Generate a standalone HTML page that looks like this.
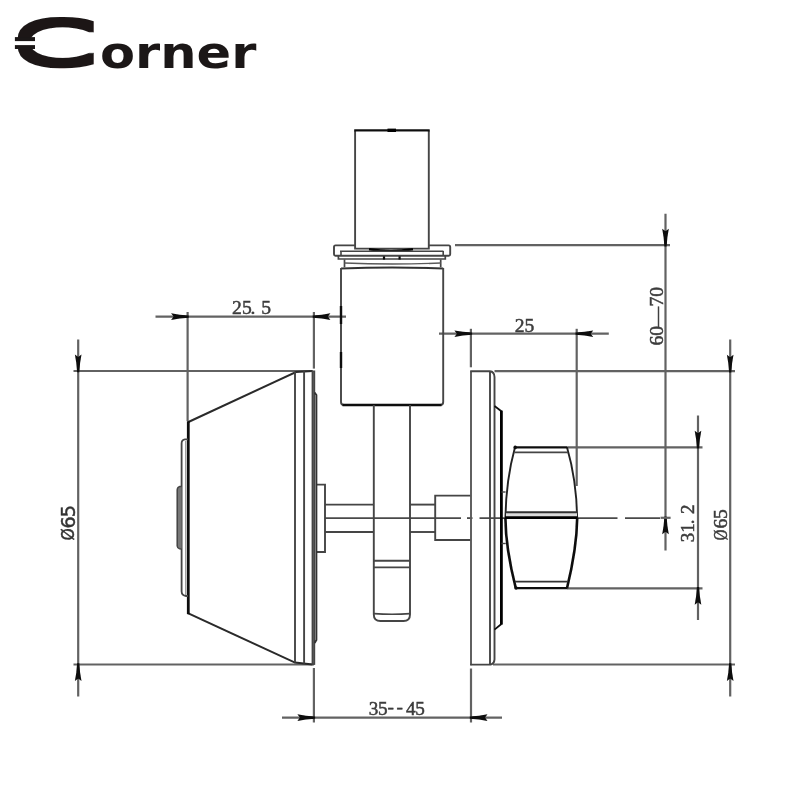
<!DOCTYPE html>
<html lang="en"><head><meta charset="utf-8"><title>Corner</title>
<style>
html,body{margin:0;padding:0;background:#fff;}
body{width:800px;height:800px;overflow:hidden;}
svg{display:block;}
</style></head>
<body>
<svg width="800" height="800" viewBox="0 0 800 800">
<defs>
<filter id="soft" x="0" y="0" width="800" height="800" filterUnits="userSpaceOnUse"><feGaussianBlur stdDeviation="0.35"/></filter>
<filter id="fat" x="-20%" y="-20%" width="140%" height="140%"><feMorphology operator="dilate" radius="1 4"/></filter>
</defs>
<title>Corner</title>
<desc>Corner lock dimension drawing: 25.5, 25, 35--45, 60—70, 31.2, Ø65</desc>
<rect width="800" height="800" fill="#ffffff"/>
<g id="logo" aria-label="Corner"><text x="0" y="63.7" transform="translate(9 0) scale(2.27 1)" font-family='"DejaVu Sans", sans-serif' font-weight="200" font-size="56.6" fill="#1b1717" filter="url(#fat)">C</text><text x="100" y="67.7" transform="translate(100 0) scale(1.13 1) translate(-100 0)" font-family='"DejaVu Sans", sans-serif' font-weight="700" font-size="45.2" fill="#1b1717">orner</text>
<rect x="14.9" y="37.1" width="20.1" height="11.9" fill="#1b1717"/><rect x="13" y="41.1" width="24" height="4" fill="#fff"/></g>
<g id="drawing" stroke-linecap="butt" filter="url(#soft)">
<line x1="78.2" y1="339.5" x2="78.2" y2="696.5" stroke="#626262" stroke-width="2.2"/>
<line x1="73.5" y1="371" x2="312.5" y2="371" stroke="#626262" stroke-width="2.2"/>
<line x1="73.5" y1="664.5" x2="314" y2="664.5" stroke="#626262" stroke-width="2.2"/>
<polygon points="-1.1,1.2 1.1,1.2 1.9,-8 3.3,-16.5 0,-14 -3.3,-16.5 -1.9,-8" fill="#0a0a0a" transform="translate(78.2 371) rotate(0)"/>
<polygon points="-1.1,1.2 1.1,1.2 1.9,-8 3.3,-16.5 0,-14 -3.3,-16.5 -1.9,-8" fill="#0a0a0a" transform="translate(78.2 664.5) rotate(180)"/>
<line x1="155.5" y1="316.6" x2="346" y2="316.6" stroke="#626262" stroke-width="2.2"/>
<line x1="187.6" y1="312" x2="187.6" y2="421" stroke="#626262" stroke-width="2.2"/>
<line x1="313.9" y1="312" x2="313.9" y2="368.6" stroke="#626262" stroke-width="2.2"/>
<polygon points="-1.1,1.2 1.1,1.2 1.9,-8 3.3,-16.5 0,-14 -3.3,-16.5 -1.9,-8" fill="#0a0a0a" transform="translate(187.6 316.6) rotate(-90)"/>
<polygon points="-1.1,1.2 1.1,1.2 1.9,-8 3.3,-16.5 0,-14 -3.3,-16.5 -1.9,-8" fill="#0a0a0a" transform="translate(313.9 316.6) rotate(90)"/>
<line x1="439" y1="333.7" x2="608.8" y2="333.7" stroke="#626262" stroke-width="2.2"/>
<line x1="470.9" y1="328.8" x2="470.9" y2="367.3" stroke="#626262" stroke-width="2.2"/>
<line x1="576.7" y1="328.8" x2="576.7" y2="486" stroke="#626262" stroke-width="2.2"/>
<polygon points="-1.1,1.2 1.1,1.2 1.9,-8 3.3,-16.5 0,-14 -3.3,-16.5 -1.9,-8" fill="#0a0a0a" transform="translate(470.9 333.7) rotate(-90)"/>
<polygon points="-1.1,1.2 1.1,1.2 1.9,-8 3.3,-16.5 0,-14 -3.3,-16.5 -1.9,-8" fill="#0a0a0a" transform="translate(576.7 333.7) rotate(90)"/>
<line x1="665.5" y1="213.8" x2="665.5" y2="550.5" stroke="#626262" stroke-width="2.2"/>
<line x1="455" y1="245.2" x2="670" y2="245.2" stroke="#626262" stroke-width="2.2"/>
<polygon points="-1.1,1.2 1.1,1.2 1.9,-8 3.3,-16.5 0,-14 -3.3,-16.5 -1.9,-8" fill="#0a0a0a" transform="translate(665.5 245.2) rotate(0)"/>
<polygon points="-1.1,1.2 1.1,1.2 1.9,-8 3.3,-16.5 0,-14 -3.3,-16.5 -1.9,-8" fill="#0a0a0a" transform="translate(665.5 517.8) rotate(180)"/>
<line x1="660.5" y1="517.8" x2="670.6" y2="517.8" stroke="#626262" stroke-width="2.2"/>
<line x1="698" y1="415.5" x2="698" y2="620" stroke="#626262" stroke-width="2.2"/>
<line x1="567.5" y1="447.3" x2="702.5" y2="447.3" stroke="#626262" stroke-width="2.2"/>
<line x1="567" y1="588.3" x2="702.5" y2="588.3" stroke="#626262" stroke-width="2.2"/>
<polygon points="-1.1,1.2 1.1,1.2 1.9,-8 3.3,-16.5 0,-14 -3.3,-16.5 -1.9,-8" fill="#0a0a0a" transform="translate(698 447.3) rotate(0)"/>
<polygon points="-1.1,1.2 1.1,1.2 1.9,-8 3.3,-16.5 0,-14 -3.3,-16.5 -1.9,-8" fill="#0a0a0a" transform="translate(698 588.3) rotate(180)"/>
<line x1="730.2" y1="339.5" x2="730.2" y2="696.5" stroke="#626262" stroke-width="2.2"/>
<line x1="494.5" y1="371.2" x2="735" y2="371.2" stroke="#626262" stroke-width="2.2"/>
<line x1="493" y1="664.5" x2="735" y2="664.5" stroke="#626262" stroke-width="2.2"/>
<polygon points="-1.1,1.2 1.1,1.2 1.9,-8 3.3,-16.5 0,-14 -3.3,-16.5 -1.9,-8" fill="#0a0a0a" transform="translate(730.2 371.2) rotate(0)"/>
<polygon points="-1.1,1.2 1.1,1.2 1.9,-8 3.3,-16.5 0,-14 -3.3,-16.5 -1.9,-8" fill="#0a0a0a" transform="translate(730.2 664.5) rotate(180)"/>
<line x1="282" y1="717.6" x2="502" y2="717.6" stroke="#626262" stroke-width="2.2"/>
<line x1="313.9" y1="668" x2="313.9" y2="722.5" stroke="#626262" stroke-width="2.2"/>
<line x1="471" y1="668.5" x2="471" y2="722.5" stroke="#626262" stroke-width="2.2"/>
<polygon points="-1.1,1.2 1.1,1.2 1.9,-8 3.3,-16.5 0,-14 -3.3,-16.5 -1.9,-8" fill="#0a0a0a" transform="translate(313.9 717.6) rotate(-90)"/>
<polygon points="-1.1,1.2 1.1,1.2 1.9,-8 3.3,-16.5 0,-14 -3.3,-16.5 -1.9,-8" fill="#0a0a0a" transform="translate(471 717.6) rotate(90)"/>
<line x1="325" y1="518.1" x2="461" y2="518.1" stroke="#4a4a4a" stroke-width="1.8"/>
<line x1="467" y1="518.1" x2="472.5" y2="518.1" stroke="#4a4a4a" stroke-width="1.8"/>
<line x1="479.5" y1="518.1" x2="617.5" y2="518.1" stroke="#4a4a4a" stroke-width="1.8"/>
<line x1="625" y1="518.1" x2="660" y2="518.1" stroke="#4a4a4a" stroke-width="1.8"/>
<path d="M355.1 130.4 L355.1 248.6 L428.8 248.6 L428.8 130.4" stroke="#444444" stroke-width="1.9" fill="none"/>
<line x1="354.2" y1="130.3" x2="429.7" y2="130.3" stroke="#111111" stroke-width="2.2"/>
<line x1="387.5" y1="130.3" x2="396" y2="130.3" stroke="#000" stroke-width="3.4"/>
<path d="M369 249.2 Q391 252.6 413 249.2" stroke="#000" stroke-width="2.4" fill="none"/>
<path d="M355 245.4 L335.5 245.4 Q334 245.4 334 247 L334 254.2 Q334 255.7 335.5 255.7 L448.7 255.7 Q450.2 255.7 450.2 254.2 L450.2 247 Q450.2 245.4 448.7 245.4 L428.8 245.4" stroke="#444444" stroke-width="1.9" fill="none"/>
<path d="M341 251 L341 255.7 M443.2 251 L443.2 255.7" stroke="#444444" stroke-width="1.6" fill="none"/>
<line x1="340" y1="251.2" x2="443.4" y2="251.2" stroke="#444444" stroke-width="1.6"/>
<path d="M338.4 256 L338.4 259 L445.3 259 L445.3 256" stroke="#444444" stroke-width="1.7" fill="none"/>
<path d="M344.5 259.4 L344.5 267.2 M440.7 259.4 L440.7 267.2" stroke="#444444" stroke-width="1.7" fill="none"/>
<path d="M344.5 263 Q392 265 440.7 263" stroke="#5a5a5a" stroke-width="1.4" fill="none"/>
<path d="M341 268.4 Q392 266.8 443.2 268.4" stroke="#333" stroke-width="2.0" fill="none"/>
<line x1="384" y1="256.3" x2="384" y2="259.6" stroke="#111111" stroke-width="2.2"/>
<line x1="399.6" y1="256.3" x2="399.6" y2="259.6" stroke="#111111" stroke-width="2.2"/>
<path d="M341 268 L341 402 Q341 405 344 405 L440.2 405 Q443.2 405 443.2 402 L443.2 268" stroke="#444444" stroke-width="1.9" fill="none"/>
<line x1="342.5" y1="405" x2="441.5" y2="405" stroke="#111111" stroke-width="2.6"/>
<line x1="341" y1="306" x2="341" y2="324" stroke="#111111" stroke-width="2.4"/>
<line x1="341" y1="352" x2="341" y2="368" stroke="#111111" stroke-width="2.4"/>
<path d="M373.8 405 L373.8 614.5 Q373.8 621 380.5 621 L403.5 621 Q410 621 410 614.5 L410 405" stroke="#444444" stroke-width="1.9" fill="none"/>
<line x1="373.8" y1="560.7" x2="410" y2="560.7" stroke="#444444" stroke-width="1.9"/>
<line x1="373.8" y1="567.4" x2="410" y2="567.4" stroke="#444444" stroke-width="1.9"/>
<path d="M374 613.6 Q392 615 410 613.6" stroke="#444444" stroke-width="1.6" fill="none"/>
<line x1="325" y1="504.6" x2="373.8" y2="504.6" stroke="#444444" stroke-width="1.9"/>
<line x1="325" y1="532" x2="373.8" y2="532" stroke="#444444" stroke-width="1.9"/>
<line x1="410" y1="504.6" x2="435" y2="504.6" stroke="#444444" stroke-width="1.9"/>
<line x1="410" y1="532" x2="435" y2="532" stroke="#444444" stroke-width="1.9"/>
<path d="M316.3 484.6 L325 484.6 L325 552 L316.3 552" stroke="#444444" stroke-width="1.9" fill="none"/>
<path d="M471 495.6 L435.2 495.6 L435.2 540 L471 540" stroke="#444444" stroke-width="1.9" fill="none"/>
<path d="M188.4 422 L296 372 L312.5 371" stroke="#2a2a2a" stroke-width="2.0" fill="none"/>
<path d="M188.4 613.4 L295 662.6 L312.5 664.4" stroke="#2a2a2a" stroke-width="2.0" fill="none"/>
<line x1="188.3" y1="421.2" x2="188.3" y2="614.2" stroke="#0c0c0c" stroke-width="2.8"/>
<line x1="295.0" y1="372" x2="295.0" y2="662.6" stroke="#444444" stroke-width="1.9"/>
<line x1="304.1" y1="371.2" x2="304.1" y2="663.6" stroke="#444444" stroke-width="1.9"/>
<rect x="312.3" y="371.2" width="2.2" height="293.0" rx="0" stroke="#444444" stroke-width="1.4" fill="#5a5a5a"/>
<path d="M314.6 392.5 L316.4 395 L316.4 640 L314.6 643" stroke="#333" stroke-width="1.9" fill="none"/>
<path d="M188 439.4 L185 439.4 Q181.6 439.6 181.6 443.5 L181.6 591.5 Q181.8 595.6 186 596 L188 596" stroke="#444444" stroke-width="1.8" fill="none"/>
<line x1="185.8" y1="441" x2="185.8" y2="595" stroke="#777" stroke-width="1.0"/>
<path d="M181.6 486.4 L179.5 486.6 Q177.2 487.4 177.2 490 L177.2 546 Q177.4 548.4 179.5 548.8 L181.6 549" stroke="#444444" stroke-width="1.5" fill="#777"/>
<line x1="471" y1="371.2" x2="471" y2="665.2" stroke="#5a5a5a" stroke-width="1.9"/>
<path d="M470.2 371.2 L490 371.2 M470.2 664.6 L491 664.6" stroke="#444444" stroke-width="1.9" fill="none"/>
<line x1="490" y1="371.2" x2="490" y2="664.6" stroke="#444444" stroke-width="1.9"/>
<path d="M490 371.2 Q494.3 371.6 494.5 377 L494.5 659.5 Q494.3 663.5 491 664.6" stroke="#444444" stroke-width="1.9" fill="none"/>
<path d="M494.5 406 L501.4 411.2 M494.5 629.6 L501.4 624" stroke="#111111" stroke-width="1.8" fill="none"/>
<line x1="501.4" y1="410.6" x2="501.4" y2="624.6" stroke="#000" stroke-width="2.8"/>
<line x1="501.4" y1="492" x2="505.6" y2="492" stroke="#444444" stroke-width="1.4"/>
<line x1="501.4" y1="543.5" x2="505.8" y2="543.5" stroke="#444444" stroke-width="1.4"/>
<path d="M515 447.3 Q506 480 505.4 518" stroke="#222" stroke-width="1.9" fill="none"/>
<path d="M567 447.3 Q576.5 480 577.2 518" stroke="#222" stroke-width="1.9" fill="none"/>
<path d="M505.4 518 Q505.6 548 515.8 588.2 M577.2 518 Q576.8 548 567 588.2" stroke="#0c0c0c" stroke-width="2.6" fill="none"/>
<line x1="514.6" y1="447.3" x2="567.4" y2="447.3" stroke="#111111" stroke-width="2.2"/>
<circle cx="515.2" cy="447.4" r="1.8" fill="#111"/>
<circle cx="516" cy="588" r="1.7" fill="#111"/>
<line x1="514.4" y1="452.3" x2="568" y2="452.3" stroke="#444444" stroke-width="1.7"/>
<line x1="515" y1="581.6" x2="568" y2="581.6" stroke="#333" stroke-width="1.8"/>
<line x1="515.6" y1="588.2" x2="567.2" y2="588.2" stroke="#111111" stroke-width="2.2"/>
<rect x="506" y="512.6" width="71" height="4.6" fill="#dcdcdc"/>
<line x1="505.6" y1="512.2" x2="577" y2="512.2" stroke="#333" stroke-width="1.9"/>
<line x1="505.2" y1="517.6" x2="577.4" y2="517.6" stroke="#000" stroke-width="2.7"/>
<text x="232.0 241.9 250.6 261.3" y="313.8 313.8 313.8 313.8" font-family='"Liberation Serif", serif' font-size="19.6" fill="#3c3c3c" stroke="#3c3c3c" stroke-width="0.5">25.5</text>
<text x="514.7 524.4" y="332.0 332.0" font-family='"Liberation Serif", serif' font-size="19.6" fill="#3c3c3c" stroke="#3c3c3c" stroke-width="0.5">25</text>
<text x="368.8 378.0 387.4 396.6 406.0 415.2" y="715.0 715.0 713.3 713.3 715.0 715.0" font-family='"Liberation Serif", serif' font-size="19.2" fill="#3c3c3c" stroke="#3c3c3c" stroke-width="0.5">35--45</text>
<text transform="translate(663.2 345.4) rotate(-90)" x="0.0 9.6 19.0 39.0 48.6" y="0.0 0.0 0.0 0.0 0.0" font-family='"Liberation Serif", serif' font-size="19.6" fill="#3c3c3c" stroke="#3c3c3c" stroke-width="0.5">60—70</text>
<text transform="translate(694.3 542.2) rotate(-90)" x="0.0 9.4 18.0 28.1" y="0.0 0.0 0.0 0.0" font-family='"Liberation Serif", serif' font-size="18.9" fill="#3c3c3c" stroke="#3c3c3c" stroke-width="0.5">31.2</text>
<text transform="translate(727.2 540.2) rotate(-90)" x="0.0 11.6 21.2" y="0.0 0.0 0.0" font-family='"Liberation Serif", serif' font-size="19.6" fill="#3c3c3c" stroke="#3c3c3c" stroke-width="0.5"><tspan font-size="19.2" textLength="10.6" lengthAdjust="spacingAndGlyphs">Ø</tspan>65</text>
<text transform="translate(75.0 540.6) rotate(-90)" x="0.0 12.0 23.4" y="-0.9 0.0 0.0" font-family='"DejaVu Sans", sans-serif' font-size="19.2" fill="#333" stroke="#333" stroke-width="0.45"><tspan font-size="17" textLength="12.3" lengthAdjust="spacingAndGlyphs">Ø</tspan>65</text>
</g>
</svg>
</body></html>
